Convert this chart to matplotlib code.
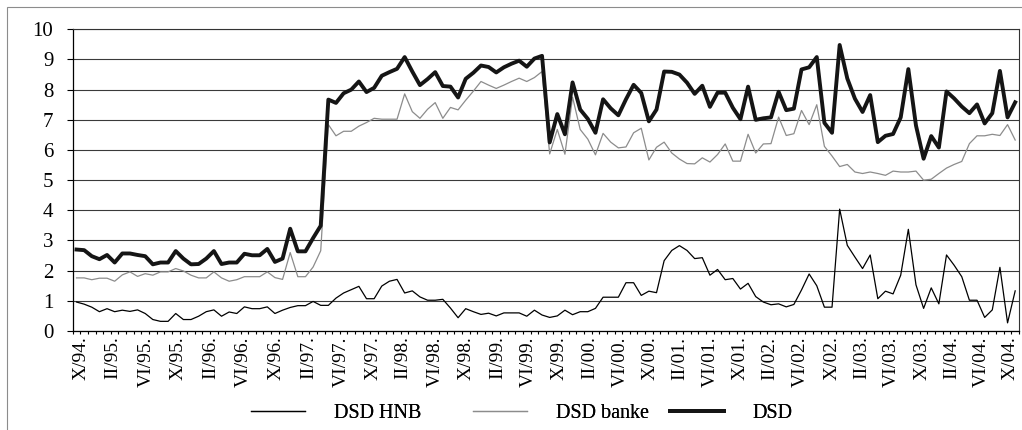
import numpy as np
import matplotlib
matplotlib.use('Agg')
import matplotlib.pyplot as plt
from matplotlib.patches import Rectangle

plt.rcParams['font.family'] = ['Liberation Serif', 'DejaVu Serif']

# monthly series (124 points, X/94 onwards)
dsd_hnb = [0.96, 0.89, 0.79, 0.64, 0.74, 0.64, 0.69, 0.65, 0.70, 0.58,
           0.38, 0.32, 0.32, 0.58, 0.38, 0.38, 0.49, 0.64, 0.70, 0.49,
           0.63, 0.58, 0.80, 0.74, 0.74, 0.80, 0.58, 0.69, 0.78, 0.84,
           0.84, 0.98, 0.85, 0.85, 1.09, 1.26, 1.37, 1.48, 1.07, 1.07,
           1.49, 1.65, 1.71, 1.26, 1.33, 1.13, 1.02, 1.02, 1.05, 0.76,
           0.44, 0.74, 0.64, 0.55, 0.59, 0.50, 0.60, 0.60, 0.60, 0.49,
           0.69, 0.53, 0.45, 0.50, 0.69, 0.54, 0.64, 0.64, 0.75, 1.12,
           1.12, 1.12, 1.60, 1.60, 1.18, 1.32, 1.27, 2.33, 2.67, 2.83,
           2.67, 2.40, 2.43, 1.85, 2.04, 1.70, 1.74, 1.39, 1.58, 1.14,
           0.96, 0.87, 0.90, 0.80, 0.88, 1.36, 1.89, 1.50, 0.79, 0.79,
           4.04, 2.84, 2.45, 2.07, 2.52, 1.07, 1.32, 1.23, 1.85, 3.37,
           1.53, 0.75, 1.43, 0.90, 2.52, 2.18, 1.80, 1.02, 1.02, 0.45,
           0.70, 2.11, 0.27, 1.33]

dsd_banke = [1.76, 1.76, 1.70, 1.75, 1.75, 1.65, 1.86, 1.96, 1.81, 1.90,
             1.85, 1.96, 1.96, 2.07, 1.99, 1.85, 1.76, 1.76, 1.96, 1.76,
             1.65, 1.70, 1.80, 1.80, 1.80, 1.96, 1.77, 1.71, 2.60, 1.80,
             1.80, 2.12, 2.66, 6.84, 6.47, 6.62, 6.62, 6.79, 6.91, 7.05,
             7.02, 7.02, 7.02, 7.86, 7.27, 7.05, 7.35, 7.57, 7.05, 7.41,
             7.33, 7.65, 7.95, 8.27, 8.15, 8.04, 8.15, 8.27, 8.38, 8.27,
             8.40, 8.60, 5.87, 6.68, 5.86, 7.75, 6.68, 6.36, 5.84, 6.55,
             6.26, 6.07, 6.10, 6.57, 6.72, 5.67, 6.09, 6.26, 5.90, 5.70,
             5.55, 5.54, 5.74, 5.60, 5.85, 6.20, 5.63, 5.63, 6.52, 5.90,
             6.20, 6.21, 7.09, 6.48, 6.54, 7.31, 6.84, 7.50, 6.12, 5.80,
             5.45, 5.52, 5.27, 5.22, 5.27, 5.22, 5.16, 5.30, 5.27, 5.27,
             5.30, 5.00, 5.03, 5.22, 5.40, 5.52, 5.62, 6.21, 6.47, 6.47,
             6.52, 6.48, 6.84, 6.33]

dsd = [2.70, 2.68, 2.48, 2.38, 2.52, 2.27, 2.57, 2.57, 2.52, 2.48,
       2.21, 2.27, 2.27, 2.65, 2.40, 2.21, 2.22, 2.40, 2.65, 2.22,
       2.27, 2.27, 2.56, 2.51, 2.51, 2.72, 2.29, 2.40, 3.39, 2.64,
       2.64, 3.08, 3.49, 7.67, 7.56, 7.88, 8.00, 8.27, 7.92, 8.06,
       8.46, 8.58, 8.69, 9.08, 8.60, 8.15, 8.35, 8.58, 8.12, 8.10,
       7.74, 8.36, 8.56, 8.80, 8.75, 8.57, 8.74, 8.86, 8.96, 8.76,
       9.03, 9.12, 6.25, 7.19, 6.52, 8.24, 7.34, 7.03, 6.57, 7.68,
       7.38, 7.15, 7.68, 8.16, 7.89, 6.95, 7.34, 8.60, 8.59, 8.50,
       8.23, 7.86, 8.13, 7.43, 7.90, 7.90, 7.40, 7.02, 8.10, 7.00,
       7.05, 7.08, 7.93, 7.32, 7.37, 8.67, 8.74, 9.08, 6.90, 6.57,
       9.48, 8.37, 7.70, 7.26, 7.82, 6.26, 6.47, 6.53, 7.08, 8.68,
       6.81, 5.71, 6.46, 6.08, 7.94, 7.71, 7.44, 7.22, 7.51, 6.88,
       7.22, 8.62, 7.08, 7.58]

tick_labels = ['X/94.', 'II/95.', 'VI/95.', 'X/95.', 'II/96.', 'VI/96.', 'X/96.',
               'II/97.', 'VI/97.', 'X/97.', 'II/98.', 'VI/98.', 'X/98.', 'II/99.',
               'VI/99.', 'X/99.', 'II/00.', 'VI/00.', 'X/00.', 'II/01.', 'VI/01.',
               'X/01.', 'II/02.', 'VI/02.', 'X/02.', 'II/03.', 'VI/03.', 'X/03.',
               'II/04.', 'VI/04.', 'X/04.']
# where the labels sit along the category axis (as in the original)
tick_pos = [0.55, 4.8, 9.1, 13.3, 17.6, 21.9, 26.1, 30.4, 34.7, 38.9, 42.8,
            47.0, 51.1, 55.2, 59.2, 63.2, 67.2, 71.2, 75.2, 79.0, 83.0, 87.0,
            90.9, 94.8, 99.0, 102.9, 106.8, 110.8, 114.7, 118.6, 122.3]

W, H = 1022, 430
fig = plt.figure(figsize=(W/100, H/100), dpi=100)
ax = fig.add_axes([72.7/W, 1 - 331/H, (1019 - 72.7)/W, (331 - 29.3)/H])

x = np.arange(len(dsd))
l1, = ax.plot(x, dsd_hnb, color='black', lw=0.9, label='DSD HNB')
l2, = ax.plot(x, dsd_banke, color='#8c8c8c', lw=0.9, label='DSD banke')
l3, = ax.plot(x, dsd, color='#151515', lw=2.8, label='DSD')

ax.set_xlim(-0.5, len(x) - 0.5)
ax.set_ylim(0, 10)
ax.set_yticks(range(11))
ax.yaxis.grid(True, color='#3a3a3a', lw=0.8)
ax.set_axisbelow(True)

ax.set_xticks(tick_pos)
ax.set_xticklabels(tick_labels, rotation=90, ha='center', va='top')
ax.set_xticks(np.arange(-0.5, len(x)), minor=True)
ax.tick_params(axis='x', which='major', length=0, pad=4, labelsize=14)
ax.tick_params(axis='x', which='minor', length=2.5, width=0.8, direction='out')
ax.tick_params(axis='y', length=4, width=0.8, pad=10, labelsize=15)

for side in ['left', 'bottom']:
    ax.spines[side].set_color('black')
    ax.spines[side].set_linewidth(0.9)
for side in ['top', 'right']:
    ax.spines[side].set_color('#333333')
    ax.spines[side].set_linewidth(0.8)

# outer chart frame (only top and left edges fall inside the picture)
fig.patches.append(Rectangle((7/W, -0.1), 1.2, 1.1 - 7/H, transform=fig.transFigure,
                             fill=False, ec='#8c8c8c', lw=0.8))

# legend entries placed one by one, like the spread-out Excel legend
for line, x0 in zip([l1, l2, l3], [251, 473, 670]):
    leg = fig.legend(handles=[line], loc='center left', bbox_to_anchor=(x0/W, 17/H),
                     frameon=False, borderpad=0, borderaxespad=0,
                     handlelength=2.7, handletextpad=1.4, fontsize=14.5)
    fig.add_artist(leg)

fig.savefig('out.png', dpi=100)
